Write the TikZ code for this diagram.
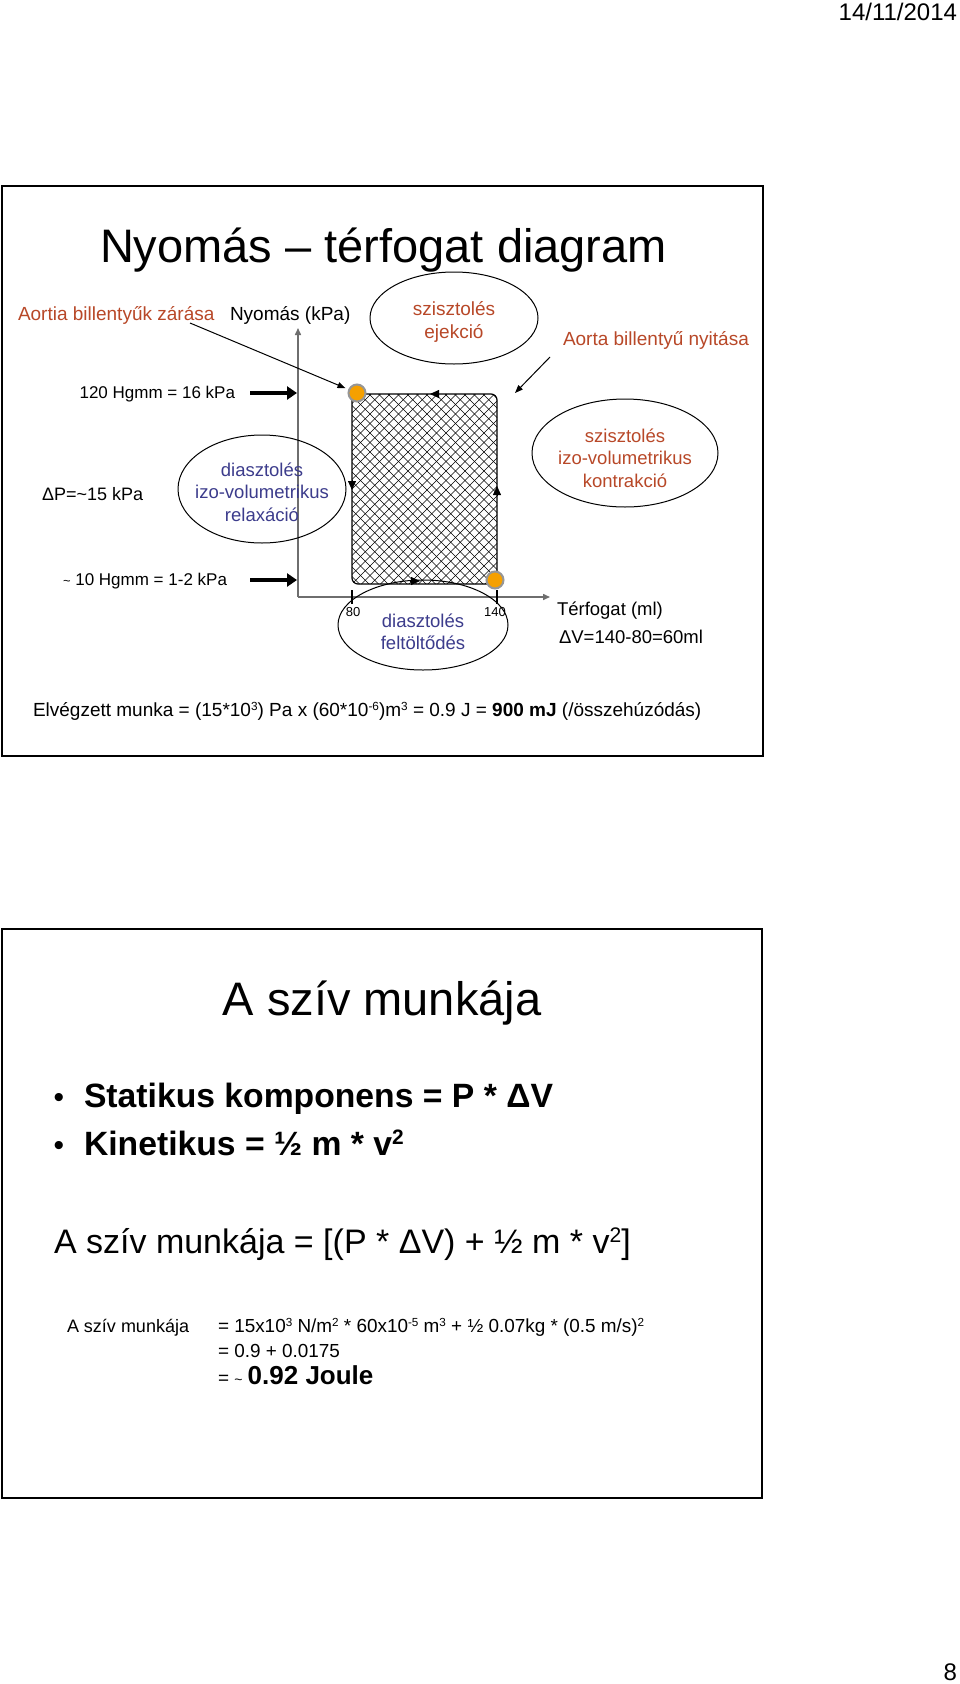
\documentclass[tikz,border=0pt]{standalone}
\usepackage{fontspec}
\usepackage{graphicx}
\setmainfont{Liberation Sans}
\usetikzlibrary{arrows.meta,shapes.geometric}
\definecolor{redtxt}{RGB}{184,72,40}
\definecolor{bluetxt}{RGB}{60,60,140}
\definecolor{dotorange}{RGB}{245,160,0}
\definecolor{dotgray}{RGB}{150,150,150}
\definecolor{axisgray}{RGB}{110,110,110}
\newcommand{\myfs}[2]{\fontsize{#1}{#2}\selectfont}
\newcommand{\mysup}[1]{\raisebox{0.3em}{\scalebox{0.62}{#1}}}
\begin{document}
\begin{tikzpicture}[x=1pt,y=-1pt,
  txt/.style={inner sep=0pt,outer sep=0pt},
  ell/.style={draw,ellipse,inner sep=0pt,align=center,line width=1pt},
  frame/.style={draw=black,line width=2pt},
  axisline/.style={draw=axisgray,line width=1.5pt,-{Triangle[length=7pt,width=6pt]}},
  thinarrow/.style={draw=black,line width=1pt,-{Triangle[length=8pt,width=6pt]}},
  thickarrow/.style={draw=black,line width=4pt,-{Triangle[length=10pt,width=13pt]}},
  flowtip/.style={draw=black,line width=0.8pt,-{Triangle[length=9pt,width=8pt]}},
  tickmark/.style={draw=black,line width=1.5pt},
  hatch/.style={draw=black,line width=0.65pt},
  dot/.style={circle,fill=dotorange,draw=dotgray,line width=2pt,minimum size=17pt,inner sep=0pt}]
\useasboundingbox (0,0) rectangle (960,1684);
\fill[white] (0,0) rectangle (960,1684);

% header / footer
\node[txt,anchor=base east,font=\myfs{24}{28}] (date) at (957,20) {14/11/2014};
\node[txt,anchor=base east,font=\myfs{24}{28}] (pnum) at (957,1680) {8};

% ---------- slide 1 ----------
\draw[frame] (2,186) rectangle (763,756);
\node[txt,anchor=base west,font=\myfs{47}{56}] (title1) at (100,262) {Nyomás – térfogat diagram};

\node[txt,anchor=base west,font=\myfs{19}{23},text=redtxt] (zar) at (18,320) {Aortia billentyűk zárása};
\node[txt,anchor=base west,font=\myfs{19}{23}] (nyom) at (230,320) {Nyomás (kPa)};
\node[ell,minimum width=168pt,minimum height=92pt] (ejek) at (454,318) {};
\node[txt,align=center,text=redtxt,font=\myfs{19}{23}] (ejekt) at (454,322) {szisztolés\\ejekció};
\node[txt,anchor=base west,font=\myfs{19}{23},text=redtxt] (nyit) at (563,345) {Aorta billentyű nyitása};

% hatched loop
\begin{scope}
  \clip[rounded corners=6pt] (352,394) rectangle (497,584);
  \foreach \i in {0,...,42} {
    \draw[hatch] (160+\i*9.5,394) -- ++(192,192);
    \draw[hatch] (352+\i*9.5,394) -- ++(-192,192);
  }
\end{scope}
\node[draw,rounded corners=6pt,line width=1.2pt,minimum width=145pt,minimum height=190pt,inner sep=0pt] (loop) at (424.5,489) {};

% axes
\coordinate (O) at (298,597);
\coordinate (ytop) at (298,328);
\coordinate (xend) at (550,597);
\draw[axisline] (O) -- (ytop);
\draw[axisline] (O) -- (xend);

% pressure labels and thick arrows
\node[txt,anchor=base east,font=\myfs{17}{20}] (p120) at (235,398) {120 Hgmm = 16 kPa};
\coordinate (t1s) at (250,393);
\coordinate (t1e) at (297,393);
\draw[thickarrow] (t1s) -- (t1e);
\node[txt,anchor=base east,font=\myfs{17}{20}] (p10) at (227,585) {{\myfs{13}{15}\textasciitilde} 10 Hgmm = 1-2 kPa};
\coordinate (t2s) at (250,580);
\coordinate (t2e) at (297,580);
\draw[thickarrow] (t2s) -- (t2e);
\node[txt,anchor=base west,font=\myfs{18}{22}] (dp) at (42,500) {ΔP=\textasciitilde15 kPa};

% ellipses
\node[ell,minimum width=168pt,minimum height=108pt] (relax) at (262,489) {};
\node[txt,align=center,text=bluetxt,font=\myfs{18.5}{22.5}] (relaxt) at (262,492) {diasztolés\\izo-volumetrikus\\relaxáció};
\node[ell,minimum width=186pt,minimum height=108pt] (kontr) at (625,453) {};
\node[txt,align=center,text=redtxt,font=\myfs{18.5}{22.5}] (kontrt) at (625,458) {szisztolés\\izo-volumetrikus\\kontrakció};
\node[ell,minimum width=170pt,minimum height=90pt] (felt) at (423,625) {};
\node[txt,align=center,text=bluetxt,font=\myfs{18.5}{22.5}] (feltt) at (423,632) {diasztolés\\feltöltődés};

% flow direction tips
\draw[flowtip] (438,394) -- (430,394);
\draw[flowtip] (352,480) -- (352,490);
\draw[flowtip] (497,496) -- (497,486);
\draw[flowtip] (410,581) -- (420,581);

% dots
\node[dot] (dot1) at (357,393) {};
\node[dot] (dot2) at (495,580) {};

% annotation arrows
\coordinate (zarS) at (190,323);
\draw[thinarrow,shorten >=3pt] (zarS) -- (dot1);
\coordinate (nyitS) at (550,357);
\coordinate (nyitE) at (515,393);
\draw[thinarrow] (nyitS) -- (nyitE);

% ticks
\coordinate (k80a) at (352,590);  \coordinate (k80b) at (352,604);
\coordinate (k140a) at (497,590); \coordinate (k140b) at (497,604);
\draw[tickmark] (k80a) -- (k80b);
\draw[tickmark] (k140a) -- (k140b);
\node[txt,font=\myfs{13}{15}] (l80) at (353,612) {80};
\node[txt,font=\myfs{13}{15}] (l140) at (495,612) {140};

\node[txt,anchor=base west,font=\myfs{18.5}{22}] (terf) at (557,615) {Térfogat (ml)};
\node[txt,anchor=base west,font=\myfs{18.5}{22}] (dv) at (559,643) {ΔV=140-80=60ml};

\node[txt,anchor=base west,font=\myfs{19}{23}] (munka) at (33,716) {Elvégzett munka = (15*10\mysup{3}) Pa x (60*10\mysup{-6})m\mysup{3} = 0.9 J = \textbf{900 mJ} (/összehúzódás)};

% ---------- slide 2 ----------
\draw[frame] (2,929) rectangle (762,1498);
\node[txt,anchor=base,font=\myfs{47}{56}] (title2) at (382,1015) {A szív munkája};
\node[txt,anchor=base,font=\myfs{30}{36}] (bul1) at (59,1107) {•};
\node[txt,anchor=base west,font=\bfseries\myfs{33.7}{40}] (stat) at (84,1107) {Statikus komponens = P * ΔV};
\node[txt,anchor=base,font=\myfs{30}{36}] (bul2) at (59,1155) {•};
\node[txt,anchor=base west,font=\bfseries\myfs{33.7}{40}] (kin) at (84,1155) {Kinetikus = ½ m * v\mysup{2}};
\node[txt,anchor=base west,font=\myfs{34}{40}] (eq) at (54,1253) {A szív munkája = [(P * ΔV) + ½ m * v\mysup{2}]};

\node[txt,anchor=base west,font=\myfs{18}{22}] (asz) at (67,1332) {A szív munkája};
\node[txt,anchor=base west,font=\myfs{18.9}{22}] (c1) at (218,1332) {= 15x10\mysup{3} N/m\mysup{2} * 60x10\mysup{-5} m\mysup{3} + ½ 0.07kg * (0.5 m/s)\mysup{2}};
\node[txt,anchor=base west,font=\myfs{18.9}{22}] (c2) at (218,1357) {= 0.9 + 0.0175};
\node[txt,anchor=base west,font=\myfs{18.9}{22}] (c3) at (218,1384) {= {\myfs{14}{16}\textasciitilde} {\bfseries\myfs{26}{30}0.92 Joule}};
\end{tikzpicture}
\end{document}
